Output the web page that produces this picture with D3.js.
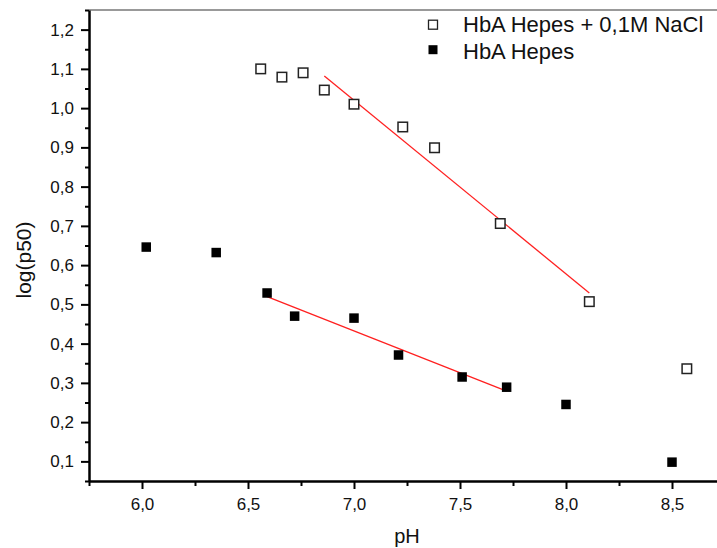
<!DOCTYPE html>
<html>
<head>
<meta charset="utf-8">
<script src="https://cdn.jsdelivr.net/npm/d3@7"></script>
<style>
  body { margin: 0; background: #fff; }
  svg { display: block; font-family: "Liberation Sans", Arial, sans-serif; }
</style>
</head>
<body>
<svg id="chart" width="717" height="548"></svg>
<script>
// series
var naclPH   = [6.56, 6.66, 6.76, 6.86, 7.00, 7.23, 7.38, 7.69, 8.11, 8.57];
var naclLogP = [1.100, 1.079, 1.090, 1.046, 1.010, 0.952, 0.899, 0.706, 0.507, 0.336];
var hepesPH   = [6.02, 6.35, 6.59, 6.72, 7.00, 7.21, 7.51, 7.72, 8.00, 8.50];
var hepesLogP = [0.646, 0.632, 0.529, 0.470, 0.465, 0.371, 0.315, 0.289, 0.245, 0.098];
// linear fits (end points)
var naclFitPH = [6.86, 8.11];
var naclFitLogP = [1.082, 0.529];
var hepesFitPH = [6.59, 7.72];
var hepesFitLogP = [0.520, 0.279];

var xMajor = [6.0, 6.5, 7.0, 7.5, 8.0, 8.5];
var xMinor = [5.75, 6.25, 6.75, 7.25, 7.75, 8.25];
var yMajor = [0.1, 0.2, 0.3, 0.4, 0.5, 0.6, 0.7, 0.8, 0.9, 1.0, 1.1, 1.2];
var yMinor = [0.05, 0.15, 0.25, 0.35, 0.45, 0.55, 0.65, 0.75, 0.85, 0.95, 1.05, 1.15, 1.25];
var legendNames = ["HbA Hepes + 0,1M NaCl", "HbA Hepes"];

var svg = d3.select("#chart");
var x = d3.scaleLinear().domain([5.75, 8.75]).range([89, 725]);
var y = d3.scaleLinear().domain([0.05, 1.25]).range([481, 10]);
var comma = function(d) { return d3.format(".1f")(d).replace(".", ","); };

// top frame line
svg.append("line")
    .attr("x1", 89).attr("x2", 717)
    .attr("y1", 10).attr("y2", 10)
    .style("stroke", "#777").style("stroke-width", 1.5);

// minor ticks
svg.append("g")
    .attr("transform", "translate(0,481)")
    .call(d3.axisBottom(x).tickValues(xMinor).tickSize(5).tickFormat(""))
    .call(function(g) { g.select(".domain").remove(); });
svg.append("g")
    .attr("transform", "translate(89,0)")
    .call(d3.axisLeft(y).tickValues(yMinor).tickSize(4).tickFormat(""))
    .call(function(g) { g.select(".domain").remove(); });

// major axes
var xAxis = svg.append("g")
    .attr("transform", "translate(0,481)")
    .call(d3.axisBottom(x).tickValues(xMajor).tickSize(8).tickSizeOuter(0).tickPadding(6).tickFormat(comma));
var yAxis = svg.append("g")
    .attr("transform", "translate(89,0)")
    .call(d3.axisLeft(y).tickValues(yMajor).tickSize(8).tickSizeOuter(0).tickPadding(7).tickFormat(comma));

svg.selectAll(".tick line").style("stroke", "#000").style("stroke-width", 2);
svg.selectAll(".domain").style("stroke", "#000").style("stroke-width", 2.5);
svg.selectAll(".tick text").style("font-size", "17px").style("fill", "#111")
    .style("font-family", "'Liberation Sans', Arial, sans-serif");
xAxis.selectAll(".tick text").attr("dy", "0.88em");

// axis titles
svg.append("text")
    .attr("x", 407).attr("y", 543)
    .attr("text-anchor", "middle")
    .style("font-size", "20px").style("fill", "#111")
    .text("pH");
svg.append("text")
    .attr("transform", "translate(31,260) rotate(-90)")
    .attr("text-anchor", "middle")
    .style("font-size", "21px").style("fill", "#111")
    .text("log(p50)");

// fit lines
var line = d3.line()
    .x(function(d) { return x(d[0]); })
    .y(function(d) { return y(d[1]); });
svg.append("path")
    .datum(d3.zip(naclFitPH, naclFitLogP))
    .attr("d", line)
    .style("fill", "none").style("stroke", "#ff2020").style("stroke-width", 1.3);
svg.append("path")
    .datum(d3.zip(hepesFitPH, hepesFitLogP))
    .attr("d", line)
    .style("fill", "none").style("stroke", "#ff2020").style("stroke-width", 1.3);

// markers
var s = 9.5;
svg.selectAll("rect.nacl")
    .data(d3.zip(naclPH, naclLogP))
    .enter()
    .append("rect")
    .attr("class", "nacl")
    .attr("x", function(d) { return x(d[0]) - s / 2; })
    .attr("y", function(d) { return y(d[1]) - s / 2; })
    .attr("width", s).attr("height", s)
    .style("fill", "#fff").style("stroke", "#222").style("stroke-width", 1.5);
svg.selectAll("rect.hepes")
    .data(d3.zip(hepesPH, hepesLogP))
    .enter()
    .append("rect")
    .attr("class", "hepes")
    .attr("x", function(d) { return x(d[0]) - s / 2; })
    .attr("y", function(d) { return y(d[1]) - s / 2; })
    .attr("width", s).attr("height", s)
    .style("fill", "#000");

// legend
var legend = svg.append("g");
legendNames.forEach(function(name, i) {
    var ly = 24.7 + i * 25;
    legend.append("rect")
        .attr("x", 433 - 4.5).attr("y", ly - 4.5)
        .attr("width", 9).attr("height", 9)
        .style("fill", i === 0 ? "#fff" : "#000")
        .style("stroke", i === 0 ? "#222" : "none")
        .style("stroke-width", 1.3);
    legend.append("text")
        .attr("x", 463).attr("y", 32 + i * 26.7)
        .style("font-size", "22px").style("fill", "#111")
        .text(name);
});
</script>
</body>
</html>
